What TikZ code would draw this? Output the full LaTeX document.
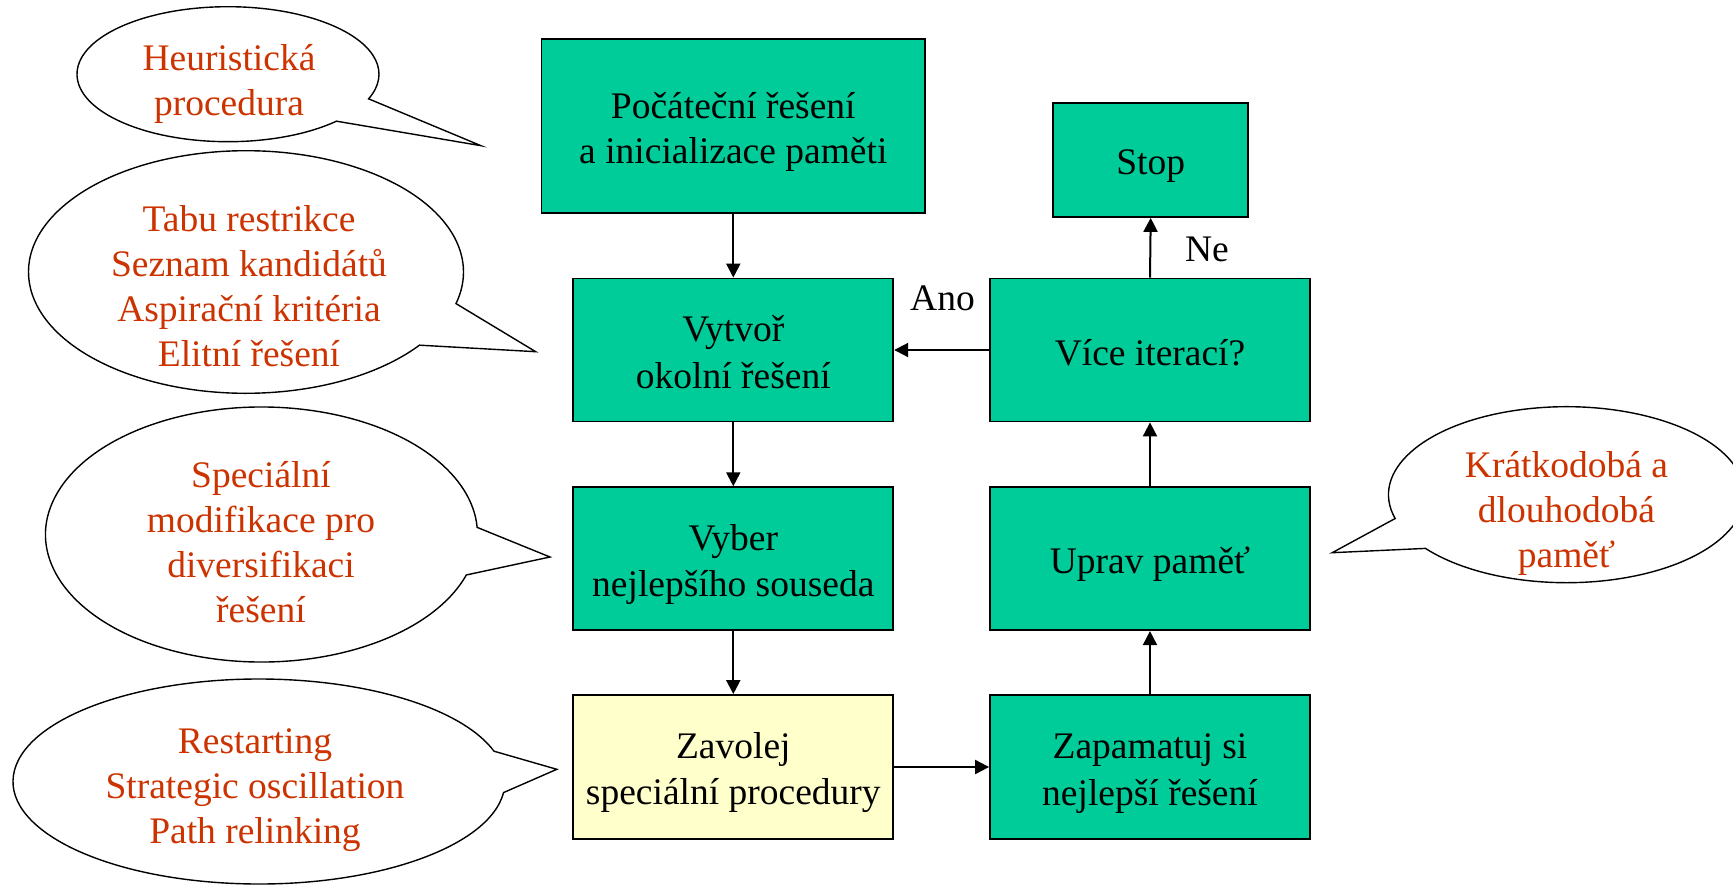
\documentclass[tikz,border=0pt]{standalone}
\usepackage{fontspec}
\setmainfont{Liberation Serif}
\usetikzlibrary{arrows.meta}
\definecolor{boxgreen}{HTML}{00CC99}
\definecolor{boxyellow}{HTML}{FFFFCC}
\definecolor{bubtext}{HTML}{CC3300}
\newcommand{\lnstrut}{\rule[-7.5pt]{0pt}{45pt}}
\begin{document}
\begin{tikzpicture}[x=1pt,y=-1pt,
  txt/.style={font=\fontsize{37.5}{45}\selectfont, align=center, inner sep=0pt},
  flow/.style={txt, draw=black, line width=1.8pt, fill=boxgreen, minimum width=320pt, minimum height=143pt},
  special/.style={flow, fill=boxyellow},
  bubtxt/.style={txt, text=bubtext},
  bubble/.style={draw=black, line width=1.4pt, fill=white, line join=miter},
  arr/.style={-{Triangle[length=14pt,width=14pt]}, line width=2pt},
  lbl/.style={txt}]
\useasboundingbox (0,0) rectangle (1733,886);
\clip (0,0) rectangle (1733,886);
\fill[white] (0,0) rectangle (1733,886);

% speech bubbles
\draw[bubble] (228,74.2) ++(44.1:151 and 67.5) arc[start angle=44.1, end angle=381.4, x radius=151, y radius=67.5] -- (481,145.7) -- cycle;
\draw[bubble] (246,272) ++(37.1:217.5 and 121.3) arc[start angle=37.1, end angle=375.1, x radius=217.5, y radius=121.3] -- (535.7,351.7) -- cycle;
\draw[bubble] (261.5,534.5) ++(18.5:216 and 127.5) arc[start angle=18.5, end angle=356.8, x radius=216, y radius=127.5] -- (550,557) -- cycle;
\draw[bubble] (259,781.5) ++(6.2:246 and 102.5) arc[start angle=6.2, end angle=342.8, x radius=246, y radius=102.5] -- (556.8,769.3) -- cycle;
\draw[bubble] (1566.5,494.7) ++(164.3:178 and 88) arc[start angle=164.3, end angle=502.4, x radius=178, y radius=88] -- (1332.2,552.7) -- cycle;

\node[bubtxt] (t1) at (229,84) {Heuristická\\procedura};
\node[bubtxt] (t2) at (249,286) {Tabu restrikce\\Seznam kandidátů\\Aspirační kritéria\\Elitní řešení};
\node[bubtxt] (t3) at (261,542.5) {Speciální\\modifikace pro\\diversifikaci\\řešení};
\node[bubtxt] (t4) at (255,790.5) {Restarting\\Strategic oscillation\\Path relinking};
\node[bubtxt] (t5) at (1566.5,513) {Krátkodobá a\\dlouhodobá\\paměť};

% flow boxes
\node[flow, minimum width=383.5pt, minimum height=174.6pt] (init) at (733.3,126) {\lnstrut Počáteční řešení\\\lnstrut a inicializace paměti};
\node[flow, minimum width=195pt, minimum height=114pt] (stop) at (1150.7,160) {\lnstrut Stop};
\node[flow] (vytvor) at (733.3,350) {\lnstrut Vytvoř\\\lnstrut okolní řešení};
\node[flow] (vice) at (1150,350) {\lnstrut Více iterací?};
\node[flow] (vyber) at (733.3,558.7) {\lnstrut Vyber\\\lnstrut nejlepšího souseda};
\node[flow] (uprav) at (1150,558.7) {\lnstrut Uprav paměť};
\node[special, minimum height=144pt] (zavolej) at (733.3,767) {\lnstrut Zavolej\\\lnstrut speciální procedury};
\node[flow, minimum height=144pt] (zapamatuj) at (1150,767) {\lnstrut Zapamatuj si\\\lnstrut nejlepší řešení};

% connectors
\draw[arr] (init.south) -- (vytvor.north);
\draw[arr] (vytvor.south) -- (vyber.north);
\draw[arr] (vyber.south) -- (zavolej.north);
\draw[arr] (zavolej.east) -- (zapamatuj.west);
\draw[arr] (zapamatuj.north) -- (uprav.south);
\draw[arr] (uprav.north) -- (vice.south);
\draw[arr] (vice.west) -- (vytvor.east);
\draw[arr] (vice.north) -- (stop.south);

\node[lbl] (ano) at (942.5,298) {Ano};
\node[lbl] (ne) at (1207,249) {Ne};
\end{tikzpicture}
\end{document}
